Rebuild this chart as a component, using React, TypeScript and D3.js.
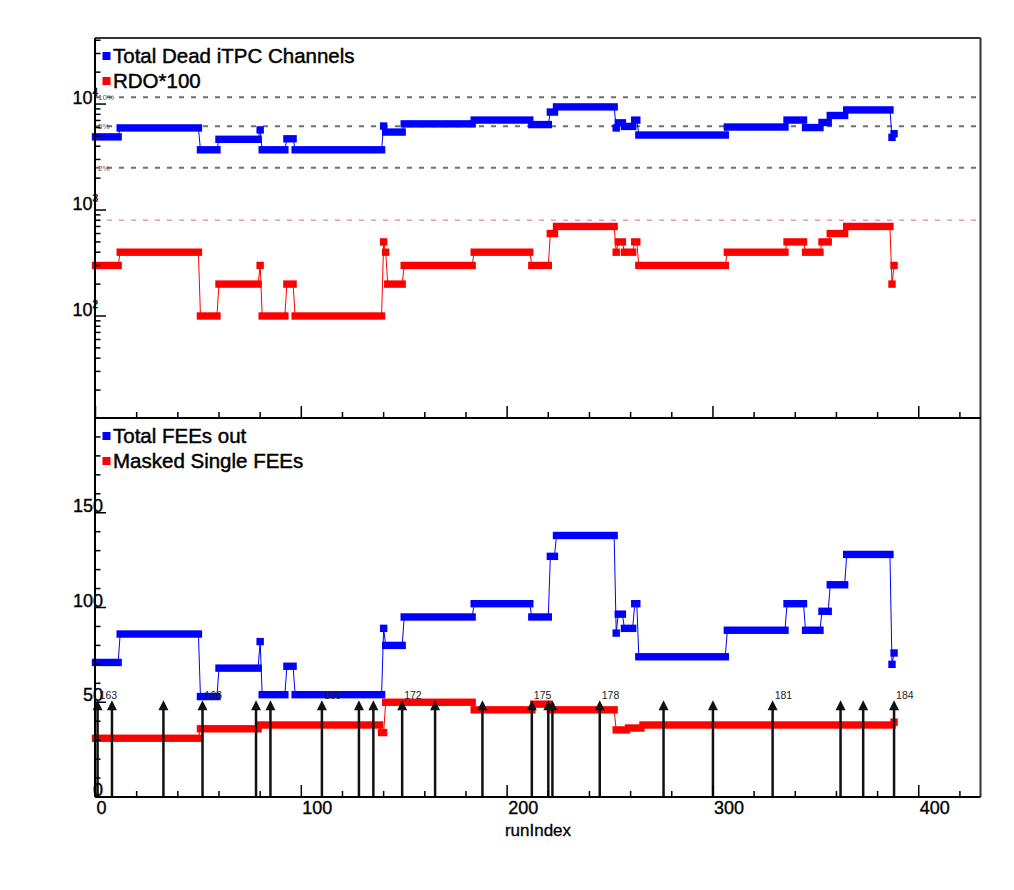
import React from 'react';
import * as d3 from 'd3';

// step data: [first runIndex of the step, value]
const lastRun = 388;

const deadChannels: [number, number][] = [
  [0, 4900], [12, 5950], [51, 3700], [60, 4650], [80, 5700], [81, 3700], [93, 4700], [97, 3700],
  [140, 6200], [141, 5440], [150, 6500], [184, 7060], [212, 6400], [221, 8400], [224, 9400],
  [253, 5950], [254, 6650], [257, 6150], [262, 7050], [264, 5100], [307, 6070], [336, 7060],
  [345, 6000], [353, 6700], [357, 7800], [365, 8800], [387, 4850], [388, 5250],
];

const rdo100: [number, number][] = [
  [0, 300], [12, 400], [51, 100], [60, 200], [80, 300], [81, 100], [93, 200], [97, 100],
  [140, 500], [141, 400], [142, 200], [150, 300], [184, 400], [212, 300], [221, 600], [224, 700],
  [253, 400], [254, 500], [257, 400], [262, 500], [264, 300], [307, 400], [336, 500],
  [345, 400], [353, 500], [357, 600], [365, 700], [387, 200], [388, 300],
];

const feesOut: [number, number][] = [
  [0, 71], [12, 86], [51, 53], [60, 68], [80, 82], [81, 54], [93, 69], [97, 54],
  [140, 89], [141, 80], [150, 95], [184, 102], [212, 95], [221, 127], [224, 138],
  [253, 86.5], [254, 96.5], [257, 89], [262, 102], [264, 74], [307, 88], [336, 102],
  [345, 88], [353, 98], [357, 112], [365, 128], [387, 70], [388, 76],
];

const maskedFees: [number, number][] = [
  [0, 31], [51, 36], [80, 38], [139, 34], [141, 50], [184, 46], [213, 49], [221, 46],
  [253, 35.4], [259, 36.4], [266, 38], [388, 39.5],
];

// reference lines in the top panel
const pctLines = [11620, 6165, 2507];
const pctLabels = ['10%', '5%', '2%'];
const rdoLimit = 800;

// day markers (arrows) in the bottom panel
const arrowRuns = [1, 8, 33, 52, 78, 85, 110, 128, 135, 149, 165, 188, 212, 220, 222, 245, 276, 300, 329, 362, 373, 388];
const arrowDays = [163, 164, 165, 166, 167, 168, 169, 170, 171, 172, 173, 174, 175, 176, 177, 178, 179, 180, 181, 182, 183, 184];
const labeledDays = [163, 166, 169, 172, 175, 178, 181, 184];
const arrowTop = 51;

const xMajor = [0, 100, 200, 300, 400];
const topMajor = [100, 1000, 10000];
const topExp = ['2', '3', '4'];
const botMajor = [0, 50, 100, 150];

const font = '"Liberation Sans", Arial, Helvetica, sans-serif';
const BLUE = '#0000ff';
const RED = '#ff0000';

const x = d3.scaleLinear().domain([0, 430]).range([95.5, 980.5]);
const yTop = d3.scaleLog().domain([10.9, 42000]).range([418, 38]);
const yBot = d3.scaleLinear().domain([0, 200]).range([797, 418]);

function segments(steps: [number, number][]) {
  return steps.map((s, i) => ({
    start: s[0],
    end: (i + 1 < steps.length ? steps[i + 1][0] : lastRun + 1) - 1,
    v: s[1],
  }));
}

function Series({ steps, y, color }: { steps: [number, number][]; y: any; color: string }) {
  const segs = segments(steps);
  const pts: [number, number][] = [];
  segs.forEach((s) => {
    pts.push([s.start, s.v]);
    if (s.end > s.start) pts.push([s.end, s.v]);
  });
  const line = d3
    .line<[number, number]>()
    .x((d) => x(d[0]))
    .y((d) => y(d[1]));
  const m = 3.7;
  return (
    <g>
      <path d={line(pts) || ''} fill="none" stroke={color} strokeWidth={1} />
      {segs.map((s, i) => (
        <rect
          key={i}
          x={x(s.start) - m}
          y={y(s.v) - m}
          width={x(s.end) - x(s.start) + 2 * m}
          height={2 * m}
          fill={color}
        />
      ))}
    </g>
  );
}

function XTicks({ y0 }: { y0: number }) {
  const minor = d3.range(0, 430, 20);
  return (
    <g stroke="#000" strokeWidth={1.5}>
      {minor.map((t) => (
        <line key={t} x1={x(t)} x2={x(t)} y1={y0} y2={y0 - (t % 100 === 0 ? 12 : 6)} />
      ))}
    </g>
  );
}

function Legend({ y0, items }: { y0: number; items: [string, string][] }) {
  return (
    <g fontFamily={font} fontSize={20.5} fill="#000" stroke="#000" strokeWidth={0.45}>
      {items.map(([label, color], i) => (
        <g key={label}>
          <rect x={102.5} y={y0 + i * 25 - 4} width={8} height={8} fill={color} stroke="none" />
          <text x={113} y={y0 + i * 25 + 6.5}>
            {label}
          </text>
        </g>
      ))}
    </g>
  );
}

export default function App() {
  const topMinor: number[] = [];
  [10, 100, 1000, 10000].forEach((d) => {
    for (let k = 2; k <= 9; k++) {
      const v = d * k;
      if (v > 10.9 && v < 42000) topMinor.push(v);
    }
  });
  const botMinor = d3.range(0, 201, 10);

  return (
    <svg
      width={1014}
      height={890}
      style={{ position: 'absolute', left: 0, top: 0, background: '#fff' }}
    >
      {/* frame */}
      <line x1={95} x2={980.5} y1={38} y2={38} stroke="#333" strokeWidth={2} />
      <line x1={980.5} x2={980.5} y1={38} y2={797} stroke="#333" strokeWidth={2} />

      {/* top panel reference lines */}
      {pctLines.map((v, i) => (
        <g key={v}>
          <line
            x1={95}
            x2={980}
            y1={yTop(v)}
            y2={yTop(v)}
            stroke="#6f6f6f"
            strokeWidth={2}
            strokeDasharray="5 7"
          />
          <text x={98} y={yTop(v) + 3} fontFamily={font} fontSize={8} fill="#555">
            {pctLabels[i]}
          </text>
        </g>
      ))}
      <line
        x1={95}
        x2={980}
        y1={yTop(rdoLimit)}
        y2={yTop(rdoLimit)}
        stroke="#dd99cc"
        strokeWidth={1.5}
        strokeDasharray="5 7"
      />

      <Series steps={deadChannels} y={yTop} color={BLUE} />
      <Series steps={rdo100} y={yTop} color={RED} />

      <Series steps={feesOut} y={yBot} color={BLUE} />
      <Series steps={maskedFees} y={yBot} color={RED} />

      {/* arrows */}
      {arrowRuns.map((r, i) => {
        const ax = x(r);
        const tip = yBot(arrowTop);
        return (
          <g key={i}>
            <line x1={ax} x2={ax} y1={yBot(0)} y2={tip + 4} stroke="#111" strokeWidth={2.5} />
            <path d={`M${ax},${tip} L${ax - 5},${tip + 10} L${ax + 5},${tip + 10} Z`} fill="#111" />
            {labeledDays.includes(arrowDays[i]) && (
              <text x={ax + 2} y={tip - 1} fontFamily={font} fontSize={10.5} fill="#222">
                {arrowDays[i]}
              </text>
            )}
          </g>
        );
      })}

      {/* top y axis */}
      <line x1={95} x2={95} y1={38} y2={418} stroke="#000" strokeWidth={2} />
      <g stroke="#000" strokeWidth={1.5}>
        {topMinor.map((v) => (
          <line key={v} x1={95} x2={100.5} y1={yTop(v)} y2={yTop(v)} />
        ))}
        {topMajor.map((v) => (
          <line key={v} x1={95} x2={106} y1={yTop(v)} y2={yTop(v)} />
        ))}
      </g>
      <g fontFamily={font} fill="#000" textAnchor="end" stroke="#000" strokeWidth={0.35}>
        {topMajor.map((v, i) => (
          <text key={v} x={98} y={yTop(v)} fontSize={18}>
            10
            <tspan fontSize={10} dy={-8}>
              {topExp[i]}
            </tspan>
          </text>
        ))}
      </g>

      {/* axis between panels */}
      <line x1={95} x2={980.5} y1={418} y2={418} stroke="#000" strokeWidth={2} />
      <XTicks y0={418} />

      {/* bottom y axis */}
      <line x1={95} x2={95} y1={418} y2={797} stroke="#000" strokeWidth={2} />
      <g stroke="#000" strokeWidth={1.5}>
        {botMinor.map((v) => (
          <line key={v} x1={95} x2={v % 50 === 0 ? 106 : 100.5} y1={yBot(v)} y2={yBot(v)} />
        ))}
      </g>
      <g fontFamily={font} fontSize={18} fill="#000" textAnchor="end" stroke="#000" strokeWidth={0.35}>
        {botMajor.map((v) => (
          <text key={v} x={103} y={yBot(v) - 1}>
            {v}
          </text>
        ))}
      </g>

      {/* bottom x axis */}
      <line x1={95} x2={980.5} y1={797} y2={797} stroke="#000" strokeWidth={2} />
      <XTicks y0={797} />
      <g fontFamily={font} fontSize={18} fill="#000" stroke="#000" strokeWidth={0.35}>
        {xMajor.map((t) => (
          <text key={t} x={x(t) + 1} y={814}>
            {t}
          </text>
        ))}
      </g>
      <text
        x={538}
        y={836}
        textAnchor="middle"
        fontFamily={font}
        fontSize={17}
        fill="#000"
        stroke="#000"
        strokeWidth={0.3}
      >
        runIndex
      </text>

      <Legend
        y0={56}
        items={[
          ['Total Dead iTPC Channels', BLUE],
          ['RDO*100', RED],
        ]}
      />
      <Legend
        y0={436}
        items={[
          ['Total FEEs out', BLUE],
          ['Masked Single FEEs', RED],
        ]}
      />
    </svg>
  );
}
